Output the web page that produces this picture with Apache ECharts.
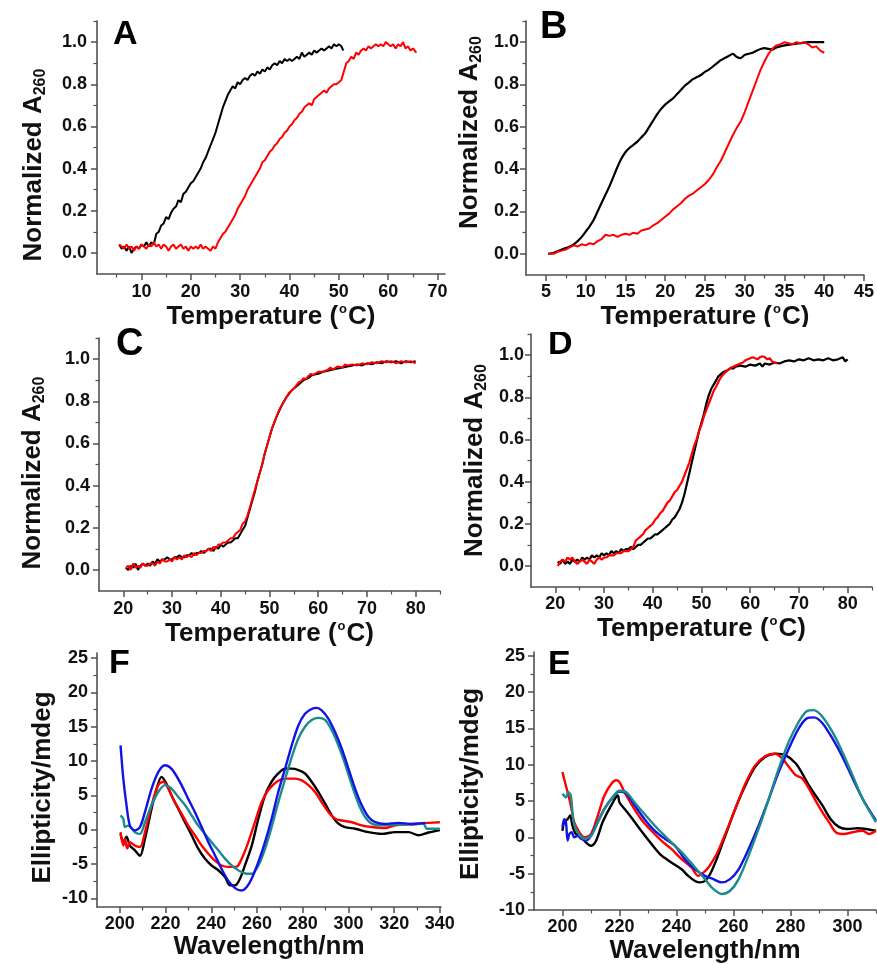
<!DOCTYPE html>
<html><head><meta charset="utf-8">
<script src="https://cdn.jsdelivr.net/npm/echarts@6/dist/echarts.min.js"></script>
<style>html,body{margin:0;padding:0;background:#fff}#c{width:877px;height:965px}</style>
</head><body><div id="c"></div><script>
// ---------- tick labels ----------
const tickA_x = [10,20,30,40,50,60,70];
const tickA_xMinor = [5,15,25,35,45,55,65];
const tickB_x = [5,10,15,20,25,30,35,40,45];
const tickB_xMinor = [7.5,12.5,17.5,22.5,27.5,32.5,37.5,42.5];
const tickCD_x = [20,30,40,50,60,70,80];
const tickCD_xMinor = [25,35,45,55,65,75,85];
const tickNorm_y = [0,0.2,0.4,0.6,0.8,1.0];
const tickNorm_yMinor = [0.1,0.3,0.5,0.7,0.9,1.1];
const tickF_x = [200,220,240,260,280,300,320,340];
const tickF_xMinor = [210,230,250,270,290,310,330];
const tickE_x = [200,220,240,260,280,300];
const tickE_xMinor = [210,230,250,270,290,310];
const tickCD_y = [-10,-5,0,5,10,15,20,25];
const tickCD_yMinor = [-7.5,-2.5,2.5,7.5,12.5,17.5,22.5];

// ---------- data: panel A ----------
const A_black = [[5.5,0.04],[6,0.02],[6.5,0.03],[7,0.01],[7.5,0.03],[8,0.0],[8.5,0.02],[9,0.03],[9.5,0.02],[10,0.04],[10.5,0.03],[11,0.05],[11.5,0.03],[12,0.05],[12.5,0.04],[13,0.09],[13.5,0.10],[14,0.13],[14.5,0.14],[15,0.17],[15.5,0.16],[16,0.19],[16.5,0.21],[17,0.22],[17.5,0.25],[18,0.24],[18.5,0.28],[19,0.29],[19.5,0.31],[20,0.33],[20.5,0.34],[21,0.36],[21.5,0.38],[22,0.40],[22.5,0.43],[23,0.45],[23.5,0.48],[24,0.51],[24.5,0.54],[25,0.57],[25.5,0.61],[26,0.65],[26.5,0.69],[27,0.72],[27.5,0.75],[28,0.77],[28.5,0.79],[29,0.78],[29.5,0.81],[30,0.80],[30.5,0.82],[31,0.83],[31.5,0.82],[32,0.84],[32.5,0.85],[33,0.84],[33.5,0.86],[34,0.85],[34.5,0.87],[35,0.86],[35.5,0.88],[36,0.87],[36.5,0.89],[37,0.90],[37.5,0.89],[38,0.91],[38.5,0.90],[39,0.92],[39.5,0.91],[40,0.92],[40.5,0.91],[41,0.92],[41.5,0.93],[42,0.92],[42.5,0.95],[43,0.93],[43.5,0.94],[44,0.95],[44.5,0.94],[45,0.96],[45.5,0.95],[46,0.96],[46.5,0.97],[47,0.96],[47.5,0.97],[48,0.98],[48.5,0.97],[49,0.99],[49.5,0.98],[50,0.99],[50.5,0.98],[50.9,0.96]];
const A_red = [[5.5,0.04],[6,0.03],[6.5,0.02],[7,0.04],[7.5,0.02],[8,0.03],[8.5,0.01],[9,0.03],[9.5,0.02],[10,0.04],[10.5,0.03],[11,0.02],[11.5,0.04],[12,0.03],[12.5,0.05],[13,0.03],[13.5,0.04],[14,0.02],[14.5,0.04],[15,0.03],[15.5,0.01],[16,0.03],[16.5,0.04],[17,0.02],[17.5,0.03],[18,0.04],[18.5,0.02],[19,0.03],[19.5,0.01],[20,0.03],[20.5,0.02],[21,0.03],[21.5,0.02],[22,0.04],[22.5,0.02],[23,0.03],[23.5,0.02],[24,0.01],[24.5,0.03],[25,0.02],[25.5,0.05],[26,0.07],[26.5,0.09],[27,0.10],[27.5,0.12],[28,0.14],[28.5,0.16],[29,0.18],[29.5,0.21],[30,0.23],[30.5,0.25],[31,0.27],[31.5,0.30],[32,0.32],[32.5,0.34],[33,0.36],[33.5,0.38],[34,0.40],[34.5,0.43],[35,0.44],[35.5,0.46],[36,0.48],[36.5,0.49],[37,0.51],[37.5,0.52],[38,0.54],[38.5,0.55],[39,0.57],[39.5,0.58],[40,0.60],[40.5,0.61],[41,0.63],[41.5,0.64],[42,0.66],[42.5,0.67],[43,0.69],[43.5,0.70],[44,0.71],[44.5,0.70],[45,0.73],[45.5,0.74],[46,0.75],[46.5,0.76],[47,0.77],[47.5,0.76],[48,0.78],[48.5,0.79],[49,0.80],[49.5,0.80],[50,0.81],[50.5,0.82],[51,0.86],[51.5,0.90],[52,0.91],[52.5,0.93],[53,0.92],[53.5,0.95],[54,0.94],[54.5,0.96],[55,0.97],[55.5,0.96],[56,0.98],[56.5,0.97],[57,0.98],[57.5,0.99],[58,0.98],[58.5,0.99],[59,0.98],[59.5,1.0],[60,0.99],[60.5,0.98],[61,0.99],[61.5,0.97],[62,0.99],[62.5,0.98],[63,1.0],[63.5,0.97],[64,0.98],[64.5,0.96],[65,0.97],[65.7,0.95]];

// ---------- data: panel B ----------
const B_black = [[5.3,0.0],[6,0.005],[7,0.02],[8,0.035],[8.5,0.045],[9,0.06],[9.5,0.08],[10,0.105],[10.5,0.13],[11,0.16],[11.5,0.2],[12,0.24],[12.5,0.28],[13,0.32],[13.5,0.365],[14,0.41],[14.5,0.45],[15,0.48],[15.5,0.5],[16,0.515],[16.5,0.53],[17,0.55],[17.5,0.57],[18,0.6],[18.5,0.63],[19,0.66],[19.5,0.685],[20,0.705],[20.5,0.72],[21,0.735],[21.5,0.755],[22,0.775],[22.5,0.795],[23,0.81],[23.5,0.825],[24,0.835],[24.5,0.845],[25,0.86],[25.5,0.87],[26,0.885],[26.5,0.9],[27,0.915],[27.5,0.925],[28,0.935],[28.5,0.945],[29,0.93],[29.5,0.925],[30,0.94],[30.5,0.945],[31,0.95],[31.5,0.96],[32,0.968],[32.5,0.972],[33,0.968],[33.5,0.965],[34,0.975],[35,0.985],[36,0.99],[37,0.995],[38,1.0],[39,1.0],[40,1.0]];
const B_red = [[5.3,0.0],[5.5,0.005],[6,0.0],[6.5,0.01],[7,0.015],[7.5,0.02],[8,0.03],[8.5,0.04],[9,0.035],[9.5,0.045],[10,0.04],[10.5,0.05],[11,0.045],[11.5,0.06],[12,0.07],[12.5,0.09],[13,0.085],[13.5,0.09],[14,0.08],[14.5,0.09],[15,0.095],[15.5,0.09],[16,0.1],[16.5,0.095],[17,0.11],[17.5,0.115],[18,0.12],[18.5,0.135],[19,0.145],[19.5,0.16],[20,0.175],[20.5,0.19],[21,0.21],[21.5,0.225],[22,0.24],[22.5,0.26],[23,0.275],[23.5,0.285],[24,0.3],[24.5,0.315],[25,0.33],[25.5,0.35],[26,0.375],[26.5,0.41],[27,0.44],[27.5,0.48],[28,0.52],[28.5,0.56],[29,0.595],[29.5,0.625],[30,0.67],[30.5,0.72],[31,0.77],[31.5,0.82],[32,0.87],[32.5,0.91],[33,0.945],[33.5,0.97],[34,0.985],[34.5,0.99],[35,1.0],[35.5,0.995],[36,0.99],[36.5,1.0],[37,0.995],[37.5,1.0],[38,0.99],[38.5,0.975],[39,0.98],[39.5,0.96],[40,0.95]];

// ---------- data: panel C ----------
const C_black = [[20.5,0.01],[21,0.0],[21.5,0.02],[22,0.01],[22.5,0.03],[23,0.0],[23.5,0.02],[24,0.03],[24.5,0.02],[25,0.03],[25.5,0.02],[26,0.04],[26.5,0.03],[27,0.05],[27.5,0.04],[28,0.05],[28.5,0.05],[29,0.06],[29.5,0.05],[30,0.05],[30.5,0.06],[31,0.06],[31.5,0.07],[32,0.06],[32.5,0.06],[33,0.07],[33.5,0.07],[34,0.08],[34.5,0.07],[35,0.08],[35.5,0.08],[36,0.09],[36.5,0.08],[37,0.09],[37.5,0.10],[38,0.10],[38.5,0.09],[39,0.11],[39.5,0.10],[40,0.12],[40.5,0.11],[41,0.12],[41.5,0.13],[42,0.13],[42.5,0.14],[43,0.15],[43.5,0.15],[44,0.17],[44.5,0.19],[45,0.21],[45.5,0.25],[46,0.29],[46.5,0.33],[47,0.37],[47.5,0.42],[48,0.46],[48.5,0.50],[49,0.55],[49.5,0.59],[50,0.63],[50.5,0.67],[51,0.70],[51.5,0.73],[52,0.755],[52.5,0.78],[53,0.80],[53.5,0.82],[54,0.835],[54.5,0.85],[55,0.86],[55.5,0.87],[56,0.88],[56.5,0.89],[57,0.90],[57.5,0.905],[58,0.91],[58.5,0.92],[59,0.925],[60,0.93],[61,0.94],[62,0.945],[63,0.95],[64,0.955],[65,0.96],[66,0.965],[67,0.97],[68,0.975],[69,0.97],[70,0.98],[71,0.975],[72,0.985],[73,0.98],[74,0.99],[75,0.985],[76,0.99],[77,0.98],[78,0.99],[79,0.985],[80,0.99]];
const C_red = [[20.5,0.01],[21,0.02],[21.5,0.0],[22,0.03],[22.5,0.01],[23,0.02],[23.5,0.01],[24,0.03],[24.5,0.02],[25,0.02],[25.5,0.03],[26,0.03],[26.5,0.02],[27,0.04],[27.5,0.03],[28,0.05],[28.5,0.04],[29,0.04],[29.5,0.05],[30,0.04],[30.5,0.06],[31,0.05],[31.5,0.06],[32,0.05],[32.5,0.07],[33,0.06],[33.5,0.07],[34,0.06],[34.5,0.08],[35,0.07],[35.5,0.08],[36,0.08],[36.5,0.09],[37,0.09],[37.5,0.10],[38,0.09],[38.5,0.11],[39,0.10],[39.5,0.12],[40,0.12],[40.5,0.13],[41,0.13],[41.5,0.14],[42,0.15],[42.5,0.15],[43,0.17],[43.5,0.18],[44,0.19],[44.5,0.22],[45,0.23],[45.5,0.26],[46,0.30],[46.5,0.34],[47,0.38],[47.5,0.42],[48,0.46],[48.5,0.50],[49,0.55],[49.5,0.59],[50,0.63],[50.5,0.67],[51,0.70],[51.5,0.73],[52,0.76],[52.5,0.78],[53,0.80],[53.5,0.82],[54,0.84],[54.5,0.85],[55,0.86],[55.5,0.875],[56,0.89],[56.5,0.895],[57,0.91],[57.5,0.905],[58,0.92],[58.5,0.93],[59,0.925],[60,0.94],[61,0.94],[62,0.95],[62.5,0.96],[63,0.95],[64,0.965],[65,0.96],[65.5,0.975],[66,0.97],[67,0.975],[68,0.97],[69,0.98],[70,0.975],[71,0.985],[72,0.98],[73,0.99],[74,0.985],[75,0.99],[76,0.98],[77,0.99],[78,0.985],[79,0.99],[80,0.98]];

// ---------- data: panel D ----------
const D_black = [[20.5,0.02],[21,0.01],[21.5,0.03],[22,0.01],[22.5,0.02],[23,0.01],[23.5,0.03],[24,0.02],[24.5,0.03],[25,0.02],[25.5,0.04],[26,0.03],[26.5,0.04],[27,0.03],[27.5,0.05],[28,0.04],[28.5,0.05],[29,0.04],[29.5,0.06],[30,0.05],[30.5,0.06],[31,0.05],[31.5,0.07],[32,0.06],[32.5,0.07],[33,0.06],[33.5,0.08],[34,0.07],[34.5,0.08],[35,0.08],[35.5,0.09],[36,0.08],[36.5,0.09],[37,0.10],[37.5,0.10],[38,0.11],[38.5,0.12],[39,0.13],[39.5,0.13],[40,0.14],[40.5,0.15],[41,0.15],[41.5,0.16],[42,0.17],[42.5,0.18],[43,0.19],[43.5,0.20],[44,0.22],[44.5,0.23],[45,0.25],[45.5,0.27],[46,0.30],[46.5,0.34],[47,0.39],[47.5,0.44],[48,0.49],[48.5,0.54],[49,0.59],[49.5,0.64],[50,0.68],[50.5,0.72],[51,0.77],[51.5,0.81],[52,0.84],[52.5,0.86],[53,0.88],[53.5,0.90],[54,0.91],[54.5,0.92],[55,0.925],[55.5,0.93],[56,0.94],[56.5,0.935],[57,0.945],[58,0.95],[59,0.945],[60,0.955],[61,0.95],[62,0.96],[62.5,0.945],[63,0.96],[64,0.955],[65,0.965],[66,0.96],[67,0.97],[68,0.975],[69,0.97],[70,0.98],[71,0.975],[72,0.985],[73,0.975],[74,0.98],[75,0.975],[76,0.985],[77,0.975],[78,0.98],[79,0.99],[79.5,0.97],[80,0.98]];
const D_red = [[20.5,0.0],[21,0.02],[21.5,0.03],[22,0.02],[22.5,0.04],[23,0.03],[23.5,0.04],[24,0.02],[24.5,0.01],[25,0.02],[25.5,0.03],[26,0.02],[26.5,0.01],[27,0.03],[27.5,0.02],[28,0.01],[28.5,0.03],[29,0.04],[29.5,0.03],[30,0.04],[30.5,0.04],[31,0.05],[31.5,0.05],[32,0.05],[32.5,0.06],[33,0.06],[33.5,0.06],[34,0.07],[34.5,0.07],[35,0.07],[35.5,0.08],[36,0.09],[36.5,0.12],[37,0.13],[37.5,0.14],[38,0.15],[38.5,0.17],[39,0.18],[39.5,0.19],[40,0.20],[40.5,0.22],[41,0.23],[41.5,0.25],[42,0.26],[42.5,0.28],[43,0.30],[43.5,0.31],[44,0.33],[44.5,0.35],[45,0.36],[45.5,0.38],[46,0.40],[46.5,0.43],[47,0.46],[47.5,0.49],[48,0.53],[48.5,0.57],[49,0.60],[49.5,0.64],[50,0.67],[50.5,0.71],[51,0.74],[51.5,0.77],[52,0.80],[52.5,0.83],[53,0.85],[53.5,0.875],[54,0.895],[54.5,0.91],[55,0.92],[55.5,0.93],[56,0.94],[56.5,0.945],[57,0.95],[57.5,0.955],[58,0.96],[58.5,0.965],[59,0.975],[59.5,0.98],[60,0.985],[60.5,0.99],[61,0.985],[61.5,0.98],[62,0.99],[62.5,0.995],[63,0.99],[63.5,0.98],[64,0.985],[64.5,0.97],[65,0.965],[65.5,0.96]];

// ---------- data: panel F (CD) ----------
const F_black = [[200.3,-0.6],[201.5,-1.8],[202.9,-1.0],[204.4,-2.3],[206.6,-3.0],[208.8,-3.8],[211,-1.3],[213.9,3.1],[216.1,6.0],[218.2,7.7],[220.4,6.7],[222.6,5.0],[225.5,3.1],[228.5,1.1],[231.4,-0.8],[234.3,-2.75],[237.2,-4.2],[240.1,-5.2],[243.1,-5.9],[246,-6.9],[248.2,-8.1],[250.4,-8.1],[252.6,-7.1],[254.7,-5.2],[257.7,-2.3],[260.6,1.6],[263.5,5.0],[266.4,7.0],[269.3,8.2],[272.3,8.9],[275.2,8.9],[278.1,8.7],[281,8.2],[283.9,7.0],[286.9,5.5],[289.8,3.8],[292.7,2.1],[295.6,0.9],[298.5,0.4],[302.9,0.15],[308.8,-0.35],[314.6,-0.6],[320.4,-0.35],[326.3,-0.35],[330.7,-0.8],[335,-0.4],[340,-0.05]];
const F_red = [[200.3,-0.35],[201.5,-2.3],[202.2,-1.3],[203.2,-2.75],[204.4,-1.8],[206.6,-2.3],[208.8,-2.5],[211,-0.35],[213.9,3.6],[216.8,6.5],[219,7.0],[221.2,6.0],[224.1,4.0],[227,2.35],[229.9,0.6],[232.8,-0.8],[235.8,-2.3],[238.7,-3.5],[241.6,-4.5],[244.5,-5.2],[247.4,-5.4],[250.4,-5.4],[251.8,-5.2],[254,-3.7],[256.2,-1.8],[259.1,1.1],[262,4.0],[264.9,5.75],[268.6,7.0],[272.3,7.45],[276.6,7.45],[279.6,7.2],[282.5,6.5],[285.4,5.5],[288.3,4.0],[291.2,2.6],[294.2,1.6],[297.1,1.35],[301.5,1.1],[305.8,0.65],[310.2,0.4],[316,0.25],[320.4,0.65],[327.7,0.85],[335,1.0],[340,1.1]];
const F_teal = [[200.3,2.1],[201.5,1.6],[202.2,0.4],[203.6,0.6],[206.6,-0.35],[208.8,-0.6],[211,1.1],[213.9,3.6],[216.8,5.5],[219.7,6.5],[222.6,6.0],[225.5,4.8],[228.5,3.6],[231.4,2.1],[234.3,0.6],[237.2,-0.6],[240.1,-1.8],[243.1,-3.0],[246,-4.2],[248.9,-5.2],[251.8,-5.9],[255.5,-6.4],[257.7,-6.4],[260.6,-5.2],[263.5,-2.8],[266.4,0.4],[269.3,4.0],[272.3,7.4],[275.2,10.6],[278.1,13.3],[281,15.0],[283.9,16.0],[286.9,16.3],[289.8,16.0],[292.7,14.5],[295.6,12.3],[298.5,9.6],[301.5,6.5],[304.4,3.8],[307.3,1.85],[310.2,0.9],[314.6,0.65],[320.4,0.75],[327.7,0.75],[332.8,0.9],[334.3,0.15],[340,0.15]];
const F_blue = [[200.3,12.3],[201.5,7.5],[202.9,3.6],[204.4,0.6],[206.6,-0.1],[208.8,0.4],[211,2.6],[213.9,6.0],[216.8,8.4],[219.7,9.4],[221.9,9.1],[224.1,8.2],[227,6.5],[229.9,4.5],[232.8,2.6],[235.8,0.4],[238.7,-1.8],[241.6,-3.7],[244.5,-5.7],[247.4,-7.4],[250.4,-8.5],[253.3,-8.85],[255.5,-8.35],[257.7,-7.1],[260.6,-4.7],[263.5,-1.8],[266.4,1.6],[269.3,5.5],[272.3,8.9],[275.2,12.3],[278.1,15.2],[281,16.9],[283.9,17.6],[286.1,17.75],[288.3,17.4],[291.2,16.2],[294.2,14.2],[297.1,11.8],[300,8.9],[302.9,6.0],[305.8,3.6],[308.8,1.85],[311.7,1.1],[316,0.85],[321.9,1.0],[327.7,0.85],[333.6,1.0]];

// ---------- data: panel E (CD) ----------
const E_black = [[200,0.9],[200.6,2.1],[201.8,2.5],[202.7,3.0],[203.5,1.6],[204.7,0.45],[206.5,0.2],[208.2,-0.7],[210,-1.15],[211.8,-0.45],[214.1,2.1],[217.1,4.4],[219.4,5.75],[220,4.8],[221.8,3.9],[224.1,2.75],[227.6,0.9],[231.2,-0.9],[234.7,-2.5],[238.2,-3.45],[241.8,-4.4],[244.1,-5.3],[246.5,-6.0],[248.2,-6.2],[250,-6.0],[251.8,-5.05],[254.1,-3.0],[257.1,0.2],[260.6,3.9],[264.1,7.1],[267.6,9.7],[271.2,11.1],[274.7,11.5],[278.2,11.3],[281.8,10.2],[284.1,8.8],[286.5,7.1],[288.8,5.75],[291.2,4.4],[294.1,2.5],[297.1,1.4],[300,1.15],[303.5,1.25],[306.5,1.15],[310,0.9]];
const E_red = [[200,9.0],[200.6,8.0],[201.8,6.2],[202.9,4.4],[204.1,2.1],[205.9,0.7],[207.6,0],[210,0.45],[212.4,3.0],[214.7,5.75],[217.1,7.35],[218.8,7.85],[220,7.6],[221.8,6.2],[224.1,4.6],[227.6,2.5],[231.2,0.9],[234.7,-0.45],[238.2,-1.6],[241.8,-3.0],[245.3,-4.15],[247.6,-5.3],[249.4,-4.85],[251.2,-4.15],[254.1,-2.3],[257.1,0.45],[260.6,3.9],[264.1,7.35],[267.6,9.9],[271.2,11.2],[274.7,11.5],[277.1,10.85],[279.4,9.7],[281.8,8.55],[284.1,8.1],[286.5,6.7],[288.8,5.05],[291.2,3.45],[293.5,2.1],[295.9,0.7],[298.8,0.45],[301.8,0.7],[305.3,0.9],[307.6,0.45],[310,0.9]];
const E_blue = [[200,1.4],[200.6,2.5],[201.2,2.1],[201.8,-0.45],[202.4,0.45],[203.2,0.7],[204.1,0],[205.3,0.2],[206.5,-0.2],[208.2,-0.45],[210,0.2],[212.4,2.1],[214.7,3.9],[217.6,5.5],[220,6.3],[222.4,6.0],[225.3,4.4],[228.8,2.5],[232.4,0.9],[235.9,-0.2],[239.4,-1.15],[242.9,-3.0],[246.5,-4.4],[250,-5.3],[252.9,-5.75],[255.9,-6.2],[258.8,-5.75],[261.8,-4.4],[265.3,-1.6],[268.8,1.6],[272.4,5.3],[275.9,9.0],[279.4,12.2],[282.9,15.0],[285.9,16.4],[288.2,16.5],[291.2,15.7],[294.7,13.6],[298.2,11.1],[301.8,8.1],[305.3,5.3],[310,2.3]];
const E_teal = [[200,6.0],[201.2,5.5],[202,6.2],[202.9,5.8],[203.9,2.1],[205.3,0.7],[207.6,-0.2],[210,0.2],[212.4,2.1],[214.7,3.9],[217.6,5.5],[220,6.4],[222.4,6.2],[225.3,4.8],[228.8,3.2],[232.4,1.6],[235.9,0.2],[239.4,-1.15],[242.9,-2.5],[246.5,-4.15],[250,-5.75],[252.9,-7.1],[255.9,-7.8],[258.8,-7.35],[261.8,-5.75],[265.3,-2.5],[268.8,1.15],[272.4,5.3],[275.9,9.5],[279.4,13.15],[282.9,15.9],[285.9,17.4],[288.2,17.5],[291.2,16.6],[294.7,14.5],[298.2,11.75],[301.8,8.5],[305.3,5.3],[310,2.1]];

// ---------- styling / layout ----------
const FONT = '"Liberation Sans", Arial, sans-serif';
const AX = '#505050';
const TXT = '#111';
const COL = {black:'#000000', red:'#ff0000', blue:'#1212e6', teal:'#1a8c8c'};

const panels = [
  {letter:'A', lx:113, ly:18, lsize:34, grid:{left:97, top:21, width:348, height:253},
   x:{min:1, max:71.5, maj:tickA_x, min2:tickA_xMinor, gap:19, margin:9, pad:[0,0,0,0]},
   y:{min:-0.1, max:1.1, maj:tickNorm_y, min2:tickNorm_yMinor, gap:48, margin:10, pad:[0,35,0,0]}, kind:'T'},
  {letter:'B', lx:540, ly:9, lsize:38, grid:{left:526, top:21, width:341, height:254},
   x:{min:2.5, max:45, maj:tickB_x, min2:tickB_xMinor, gap:27, margin:8, pad:[0,0,0,20]},
   y:{min:-0.1, max:1.1, maj:tickNorm_y, min2:tickNorm_yMinor, gap:41, margin:7, pad:[0,0,0,31]}, kind:'T'},
  {letter:'C', lx:116, ly:326, lsize:38, grid:{left:99, top:338, width:341, height:253},
   x:{min:15, max:85, maj:tickCD_x, min2:tickCD_xMinor, gap:21, margin:9, pad:[0,0,0,0]},
   y:{min:-0.1, max:1.1, maj:tickNorm_y, min2:tickNorm_yMinor, gap:51, margin:9, pad:[0,17,0,0]}, kind:'T'},
  {letter:'D', lx:548, ly:328, lsize:34, grid:{left:531, top:334, width:341, height:253},
   x:{min:15, max:85, maj:tickCD_x, min2:tickCD_xMinor, gap:20, margin:8, pad:[0,0,0,0]},
   y:{min:-0.1, max:1.1, maj:tickNorm_y, min2:tickNorm_yMinor, gap:41, margin:7, pad:[0,0,0,0]}, kind:'T'},
  {letter:'F', lx:109, ly:647, lsize:34, grid:{left:97, top:653, width:344, height:254},
   x:{min:190, max:340.5, maj:tickF_x, min2:tickF_xMinor, gap:25, margin:8, pad:[0,0,0,0]},
   y:{min:-11.25, max:25.75, maj:tickCD_y, min2:tickCD_yMinor, gap:39, margin:9, pad:[0,15,0,0]}, kind:'W'},
  {letter:'E', lx:548, ly:648, lsize:34, grid:{left:534, top:652, width:342, height:258},
   x:{min:190, max:310, maj:tickE_x, min2:tickE_xMinor, gap:26, margin:8, pad:[0,0,0,0]},
   y:{min:-10, max:25.5, maj:tickCD_y, min2:tickCD_yMinor, gap:48, margin:9, pad:[0,6,0,0]}, kind:'W'}
];

const richBase = {fontFamily:FONT, fontWeight:'bold', color:TXT};
function xName(kind){ return kind==='T' ? '{t|Temperature (}{o|o}{t|C)}' : '{t|Wavelength/nm}'; }
function yName(kind){ return kind==='T' ? '{t|Normalized A}{s|260}' : '{t|Ellipticity/mdeg}'; }
const richDef = {
  t:Object.assign({fontSize:26, lineHeight:30}, richBase),
  o:Object.assign({fontSize:13, lineHeight:13, verticalAlign:'top', padding:[1,1,0,1]}, richBase),
  s:Object.assign({fontSize:16, lineHeight:16, verticalAlign:'bottom'}, richBase)
};
const labelStyle = {color:TXT, fontSize:18, fontWeight:'bold', fontFamily:FONT};

const xAxis = [], yAxis = [], grid = [], series = [], graphic = [];
panels.forEach((p, i) => {
  grid.push(Object.assign({containLabel:false}, p.grid));
  xAxis.push({
    type:'value', gridIndex:i, min:p.x.min, max:p.x.max, position:'bottom',
    axisLine:{show:true, onZero:false, lineStyle:{color:AX, width:1.6}},
    axisTick:{show:true, customValues:p.x.maj, length:6, lineStyle:{color:AX, width:1.5}},
    axisLabel:Object.assign({show:true, customValues:p.x.maj, margin:p.x.margin}, labelStyle),
    splitLine:{show:false},
    name:xName(p.kind), nameLocation:'middle', nameGap:p.x.gap,
    nameTextStyle:{padding:p.x.pad, rich:richDef}
  });
  xAxis.push({
    type:'value', gridIndex:i, min:p.x.min, max:p.x.max, position:'bottom',
    axisLine:{show:false, onZero:false}, axisLabel:{show:false}, splitLine:{show:false},
    axisTick:{show:true, customValues:p.x.min2, length:3.5, lineStyle:{color:AX, width:1.2}}
  });
  yAxis.push({
    type:'value', gridIndex:i, min:p.y.min, max:p.y.max, position:'left',
    axisLine:{show:true, onZero:false, lineStyle:{color:AX, width:1.6}},
    axisTick:{show:true, customValues:p.y.maj, length:6, lineStyle:{color:AX, width:1.5}},
    axisLabel:Object.assign({show:true, customValues:p.y.maj, margin:p.y.margin,
      formatter: p.kind==='T' ? (v => Number(v).toFixed(1)) : (v => String(Math.round(v)))}, labelStyle),
    splitLine:{show:false},
    name:yName(p.kind), nameLocation:'middle', nameGap:p.y.gap,
    nameTextStyle:{padding:p.y.pad, rich:richDef}
  });
  yAxis.push({
    type:'value', gridIndex:i, min:p.y.min, max:p.y.max, position:'left',
    axisLine:{show:false, onZero:false}, axisLabel:{show:false}, splitLine:{show:false},
    axisTick:{show:true, customValues:p.y.min2, length:3.5, lineStyle:{color:AX, width:1.2}}
  });
  graphic.push({type:'text', left:p.lx, top:p.ly, z:50,
    style:{text:p.letter, font:'bold '+p.lsize+'px '+FONT, fill:'#000'}});
});

function line(name, data, panel, color, width, smooth){
  series.push({name, type:'line', data, xAxisIndex:panel*2, yAxisIndex:panel*2,
    showSymbol:false, symbol:'none', smooth:smooth||false, animation:false,
    lineStyle:{color, width}, itemStyle:{color}});
}
line('A black', A_black, 0, COL.black, 2);
line('A red', A_red, 0, COL.red, 2);
line('B black', B_black, 1, COL.black, 2.2, 0.3);
line('B red', B_red, 1, COL.red, 2);
line('C black', C_black, 2, COL.black, 2);
line('C red', C_red, 2, COL.red, 2);
line('D black', D_black, 3, COL.black, 2.2);
line('D red', D_red, 3, COL.red, 2.2);
line('F black', F_black, 4, COL.black, 2.4, 0.3);
line('F red', F_red, 4, COL.red, 2.4, 0.3);
line('F teal', F_teal, 4, COL.teal, 2.4, 0.3);
line('F blue', F_blue, 4, COL.blue, 2.4, 0.3);
line('E black', E_black, 5, COL.black, 2.4, 0.3);
line('E red', E_red, 5, COL.red, 2.4, 0.3);
line('E blue', E_blue, 5, COL.blue, 2.4, 0.3);
line('E teal', E_teal, 5, COL.teal, 2.4, 0.3);

// panel D overlapping the bottom of B's axis title (as in the source figure)
graphic.push({type:'rect', z:100, shape:{x:440, y:327, width:437, height:5}, style:{fill:'#fff'}});

const chart = echarts.init(document.getElementById('c'), null, {renderer:'canvas'});
chart.setOption({backgroundColor:'#fff', animation:false, grid, xAxis, yAxis, series, graphic});
</script></body></html>
